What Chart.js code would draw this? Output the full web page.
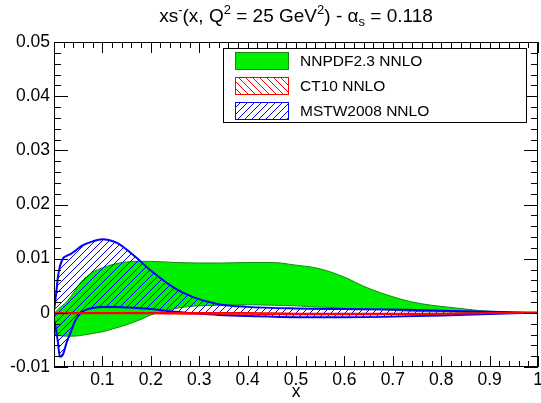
<!DOCTYPE html>
<html>
<head>
<meta charset="utf-8">
<script src="https://cdn.jsdelivr.net/npm/chart.js@4.4.1/dist/chart.umd.min.js"></script>
<style>
    html, body { margin: 0; padding: 0; background: #fff; }
    #wrap { position: relative; width: 541px; height: 403px; }
    #title {
        position: absolute; left: 54px; width: 484px; top: 6px;
        text-align: center; white-space: nowrap; color: #000;
        font: 19px/19px 'Liberation Sans', Arial, sans-serif;
    }
    #title sup, #title sub { font-size: 13px; line-height: 0; vertical-align: baseline; position: relative; }
    #title sup { top: -8px; }
    #title sub { top: 4px; }
</style>
</head>
<body>
<div id="wrap">
    <canvas id="chart" width="541" height="403"></canvas>
    <div id="title">xs<sup>-</sup>(x, Q<sup>2</sup> = 25 GeV<sup>2</sup>) - α<sub>s</sub> = 0.118</div>
</div>
<script>
// ##### Data #####

const nnpdfX = [0.002, 0.01, 0.026, 0.04, 0.054, 0.08, 0.1, 0.12, 0.15, 0.18, 0.2, 0.25, 0.3, 0.35, 0.4, 0.45, 0.5, 0.535, 0.57, 0.605, 0.64, 0.675, 0.71, 0.74, 0.78, 0.81, 0.85, 0.88, 0.92, 0.95, 1.0]
const nnpdfUpper = [0.0, 0.0008, 0.002, 0.0037, 0.0055, 0.0075, 0.0083, 0.0089, 0.0094, 0.0095, 0.0095, 0.0093, 0.0092, 0.0092, 0.0093, 0.0093, 0.0088, 0.0084, 0.0076, 0.0064, 0.0049, 0.0037, 0.0027, 0.002, 0.0014, 0.0011, 0.0007, 0.0004, 0.0002, 0.0, 0.0]
const nnpdfLower = [-0.004, -0.0042, -0.0043, -0.0043, -0.0042, -0.0038, -0.0035, -0.003, -0.0022, -0.0012, -0.0004, 0.0008, 0.0013, 0.0014, 0.0015, 0.0014, 0.0013, 0.0011, 0.001, 0.0008, 0.0007, 0.0006, 0.0004, 0.0003, 0.0002, 0.0002, 0.0001, 0.0, 0.0, 0.0, 0.0]

const mstwX = [0.001, 0.005, 0.008, 0.012, 0.019, 0.026, 0.035, 0.043, 0.058, 0.08, 0.1, 0.115, 0.13, 0.15, 0.17, 0.2, 0.25, 0.29, 0.34, 0.4, 0.5, 0.6, 0.7, 0.8, 0.9, 0.95, 1.0]
const mstwUpper = [0.0009, 0.004, 0.0065, 0.0085, 0.0101, 0.0105, 0.0109, 0.0114, 0.0124, 0.0132, 0.0136, 0.0134, 0.0129, 0.0117, 0.0102, 0.0078, 0.0045, 0.0028, 0.0016, 0.0011, 0.0008, 0.0007, 0.0006, 0.0004, 0.0002, 0.0001, 0.0]
const mstwLower = [-0.0015, -0.0035, -0.0053, -0.0081, -0.0076, -0.0055, -0.0035, -0.0016, 0.0002, 0.0009, 0.0011, 0.0011, 0.0011, 0.001, 0.0009, 0.0007, 0.0002, -0.0001, -0.0004, -0.0006, -0.0008, -0.0008, -0.0007, -0.0005, -0.0002, -0.0001, 0.0]

const ct10X = [0.001, 0.05, 0.1, 0.2, 0.3, 0.4, 0.5, 0.6, 0.7, 0.8, 0.9, 1.0]
const ct10Upper = [0.0, 0.0, 0.0, 0.0, 0.0, 0.0, -0.0001, -0.0001, -0.0001, -0.0001, 0.0, 0.0]
const ct10Lower = [-0.0001, -0.0001, -0.0001, -0.0001, -0.0002, -0.0002, -0.0003, -0.0003, -0.0003, -0.0002, -0.0001, 0.0]

const legendLabels = ['NNPDF2.3 NNLO', 'CT10 NNLO', 'MSTW2008 NNLO']
const xAxisTitle = 'x'

// ##### Styles #####

const FONT = "'Liberation Sans', Arial, sans-serif"
Chart.defaults.font.family = FONT
Chart.defaults.color = '#000'

function makeHatch(color, forward) {
    const s = 7
    const c = document.createElement('canvas')
    c.width = s
    c.height = s
    const g = c.getContext('2d')
    g.strokeStyle = color
    g.lineWidth = 1
    g.beginPath()
    if (forward) {
        g.moveTo(0, s); g.lineTo(s, 0)
        g.moveTo(-1, 1); g.lineTo(1, -1)
        g.moveTo(s - 1, s + 1); g.lineTo(s + 1, s - 1)
    } else {
        g.moveTo(0, 0); g.lineTo(s, s)
        g.moveTo(-1, s - 1); g.lineTo(1, s + 1)
        g.moveTo(s - 1, -1); g.lineTo(s + 1, 1)
    }
    g.stroke()
    return g.createPattern(c, 'repeat')
}

const green = '#00ee00'
const darkGreen = '#118811'
const red = '#ff0000'
const blue = '#0000ff'
const redHatch = makeHatch(red, false)
const blueHatch = makeHatch(blue, true)

const toPoints = (xs, ys) => xs.map((x, i) => ({ x: x, y: ys[i] }))

function band(xs, lower, upper, line, fill, width) {
    const common = {
        borderColor: line,
        borderWidth: width,
        pointRadius: 0,
        cubicInterpolationMode: 'monotone',
    }
    return [
        { ...common, data: toPoints(xs, lower), fill: false },
        { ...common, data: toPoints(xs, upper), fill: '-1', backgroundColor: fill },
    ]
}

// first in list is drawn on top
const datasets = [
    ...band(ct10X, ct10Lower, ct10Upper, red, redHatch, 1.5),
    ...band(mstwX, mstwLower, mstwUpper, blue, blueHatch, 2),
    ...band(nnpdfX, nnpdfLower, nnpdfUpper, darkGreen, green, 1),
]

// ##### Frame, inward ticks and legend (ROOT look) #####

const rootFrame = {
    id: 'rootFrame',
    afterDatasetsDraw(chart) {
        const { ctx, chartArea: a, scales } = chart
        const xs = scales.x
        const ys = scales.y
        ctx.save()
        ctx.strokeStyle = '#000'
        ctx.lineWidth = 1
        ctx.beginPath()
        for (let i = 0; i <= 50; i++) {
            const v = i * 0.02
            const px = Math.round(xs.getPixelForValue(v)) + 0.5
            const len = i % 5 === 0 ? 11 : 6
            ctx.moveTo(px, a.bottom); ctx.lineTo(px, a.bottom - len)
            ctx.moveTo(px, a.top); ctx.lineTo(px, a.top + len)
        }
        for (let i = 0; i <= 30; i++) {
            const v = -0.01 + i * 0.002
            const py = Math.round(ys.getPixelForValue(v)) + 0.5
            const len = i % 5 === 0 ? 14 : 7
            ctx.moveTo(a.left, py); ctx.lineTo(a.left + len, py)
            ctx.moveTo(a.right, py); ctx.lineTo(a.right - len, py)
        }
        ctx.stroke()
        ctx.strokeRect(Math.round(a.left) + 0.5, Math.round(a.top) + 0.5,
            Math.round(a.right - a.left) - 1, Math.round(a.bottom - a.top) - 1)

        // legend
        const box = { x: 223.5, y: 48.5, w: 303, h: 74 }
        ctx.fillStyle = '#fff'
        ctx.fillRect(box.x, box.y, box.w, box.h)
        ctx.strokeRect(box.x, box.y, box.w, box.h)
        const fills = [green, redHatch, blueHatch]
        const edges = [darkGreen, red, blue]
        ctx.font = '15.5px ' + FONT
        ctx.textBaseline = 'middle'
        legendLabels.forEach((label, i) => {
            const top = 52.5 + i * 25
            ctx.fillStyle = '#fff'
            ctx.fillRect(235.5, top, 53, 17)
            ctx.fillStyle = fills[i]
            ctx.fillRect(235.5, top, 53, 17)
            ctx.strokeStyle = edges[i]
            ctx.strokeRect(235.5, top, 53, 17)
            ctx.fillStyle = '#000'
            ctx.fillText(label, 300, top + 9)
        })
        ctx.restore()
    },
}

new Chart(document.getElementById('chart').getContext('2d'), {
    type: 'line',
    data: { datasets: datasets },
    plugins: [rootFrame],
    options: {
        responsive: false,
        animation: false,
        layout: { padding: { top: 42, right: 3, left: 0, bottom: 0 } },
        plugins: {
            legend: { display: false },
            tooltip: { enabled: false },
        },
        scales: {
            x: {
                type: 'linear',
                min: 0,
                max: 1,
                grid: { display: false, drawTicks: false },
                border: { display: false },
                ticks: {
                    stepSize: 0.1,
                    padding: 3,
                    maxRotation: 0,
                    font: { size: 17.5 },
                    callback: (v) => (v === 0 ? '' : String(Number(v.toFixed(1)))),
                },
                title: {
                    display: true,
                    text: xAxisTitle,
                    font: { size: 17.5 },
                    padding: { top: 0, bottom: 0 },
                },
                afterFit: (scale) => {
                    scale.height = 36
                    scale.paddingRight = 3
                },
            },
            y: {
                min: -0.01,
                max: 0.05,
                grid: { display: false, drawTicks: false },
                border: { display: false },
                ticks: {
                    stepSize: 0.01,
                    padding: 4,
                    font: { size: 17.5 },
                    callback: (v) => String(Number(v.toFixed(2))),
                },
                afterFit: (scale) => {
                    scale.width = 54
                },
            },
        },
    },
})
</script>
</body>
</html>
